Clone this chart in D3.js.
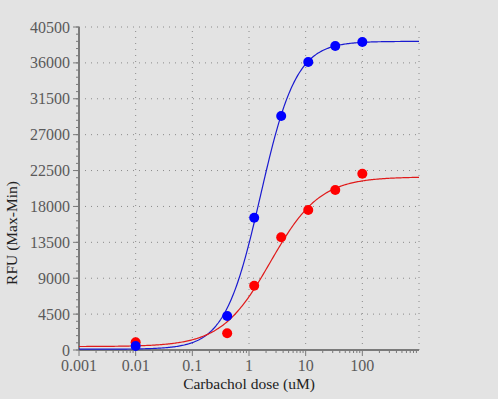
<!DOCTYPE html>
<html>
<head>
<meta charset="utf-8">
<script src="https://cdn.jsdelivr.net/npm/d3@7"></script>
<style>
  html, body { margin: 0; padding: 0; background: #e3e3e3; }
  svg { display: block; font-family: "Liberation Serif", "Times New Roman", serif; }
  .tick-label { fill: #5a5a5a; font-size: 16px; }
  .axis-label { fill: #222; font-size: 15.5px; }
</style>
</head>
<body>
<script>
"use strict";

// doses (uM), 3-fold dilution series plus the zero-dose point shown at 0.01
var doses = [0.01, 0.412, 1.235, 3.7, 11.1, 33.3, 100];
var blueValues = [500, 4260, 16590, 29340, 36110, 38120, 38620];
var redValues = [960, 2090, 8060, 14130, 17560, 20060, 22110];

// fitted 4PL parameters [bottom, top, ec50, hill]
var blueFit = [100, 38700, 1.6, 1.38];
var redFit = [430, 21700, 2.4, 1.0];

var xTicks = [0.001, 0.01, 0.1, 1, 10, 100];
var xTickLabels = ["0.001", "0.01", "0.1", "1", "10", "100"];
var yTicks = [0, 4500, 9000, 13500, 18000, 22500, 27000, 31500, 36000, 40500];

var width = 498;
var height = 399;
var margin = { top: 27, left: 79, right: 79, bottom: 49 };

var xScale = d3.scaleLog()
    .domain([0.001, 1000])
    .range([margin.left, width - margin.right]);
var yScale = d3.scaleLinear()
    .domain([0, 40500])
    .range([height - margin.bottom, margin.top]);

var svg = d3.select("body").append("svg")
    .attr("width", width)
    .attr("height", height);

// gridlines
var grid = svg.append("g").attr("class", "grid");
grid.selectAll(".hgrid")
    .data(yTicks.slice(1))
    .enter().append("line")
    .attr("x1", margin.left)
    .attr("x2", width - margin.right)
    .attr("y1", function(d) { return yScale(d); })
    .attr("y2", function(d) { return yScale(d); })
    .attr("stroke", "#8a8a8a")
    .attr("stroke-dasharray", "1,5");
grid.selectAll(".vgrid")
    .data(xTicks.slice(1).concat([1000]))
    .enter().append("line")
    .attr("x1", function(d) { return xScale(d); })
    .attr("x2", function(d) { return xScale(d); })
    .attr("y1", yScale(0))
    .attr("y2", yScale(40500))
    .attr("stroke", "#8a8a8a")
    .attr("stroke-dasharray", "1,5");

// x axis with log minor ticks
var minorX = [];
for (var e = -3; e < 3; e++) {
    for (var m = 2; m <= 9; m++) minorX.push(m * Math.pow(10, e));
}
var xAxis = svg.append("g")
    .attr("transform", "translate(0," + yScale(0) + ")");
xAxis.append("line")
    .attr("x1", margin.left).attr("x2", width - margin.right)
    .attr("stroke", "#7a7a7a").attr("stroke-width", 2);
xAxis.selectAll(".minor")
    .data(minorX)
    .enter().append("line")
    .attr("x1", function(d) { return xScale(d); })
    .attr("x2", function(d) { return xScale(d); })
    .attr("y1", 0).attr("y2", 3)
    .attr("stroke", "#7a7a7a");
xAxis.selectAll(".major")
    .data(xTicks)
    .enter().append("line")
    .attr("x1", function(d) { return xScale(d); })
    .attr("x2", function(d) { return xScale(d); })
    .attr("y1", 0).attr("y2", 6)
    .attr("stroke", "#7a7a7a");
xAxis.selectAll("text")
    .data(xTicks)
    .enter().append("text")
    .attr("class", "tick-label")
    .attr("x", function(d) { return xScale(d); })
    .attr("y", 21)
    .attr("text-anchor", "middle")
    .text(function(d, i) { return xTickLabels[i]; });

// y axis with minor ticks
var minorY = d3.range(0, 40501, 900);
var yAxis = svg.append("g")
    .attr("transform", "translate(" + margin.left + ",0)");
yAxis.append("line")
    .attr("y1", yScale(0)).attr("y2", yScale(40500))
    .attr("stroke", "#7a7a7a").attr("stroke-width", 2);
yAxis.selectAll(".minor")
    .data(minorY)
    .enter().append("line")
    .attr("y1", function(d) { return yScale(d); })
    .attr("y2", function(d) { return yScale(d); })
    .attr("x1", -3).attr("x2", 0)
    .attr("stroke", "#7a7a7a");
yAxis.selectAll(".major")
    .data(yTicks)
    .enter().append("line")
    .attr("y1", function(d) { return yScale(d); })
    .attr("y2", function(d) { return yScale(d); })
    .attr("x1", -6).attr("x2", 0)
    .attr("stroke", "#7a7a7a");
yAxis.selectAll("text")
    .data(yTicks)
    .enter().append("text")
    .attr("class", "tick-label")
    .attr("x", -9)
    .attr("y", function(d) { return yScale(d); })
    .attr("dy", "0.35em")
    .attr("text-anchor", "end")
    .text(function(d) { return d; });

// axis titles
svg.append("text")
    .attr("class", "axis-label")
    .attr("x", (margin.left + width - margin.right) / 2)
    .attr("y", 389)
    .attr("text-anchor", "middle")
    .text("Carbachol dose (uM)");
svg.append("text")
    .attr("class", "axis-label")
    .attr("transform", "translate(17,233) rotate(-90)")
    .attr("text-anchor", "middle")
    .text("RFU (Max-Min)");

// fitted curves
function fourPL(p) {
    return function(x) { return p[0] + (p[1] - p[0]) / (1 + Math.pow(p[2] / x, p[3])); };
}
var curveX = d3.range(0, 301).map(function(i) { return Math.pow(10, -3 + i * 6 / 300); });
var line = d3.line()
    .x(function(d) { return xScale(d[0]); })
    .y(function(d) { return yScale(d[1]); });

var series = [
    { color: "#0000ff", line: "#1a1ad0", fit: blueFit, values: blueValues },
    { color: "#ff0000", line: "#e01a1a", fit: redFit, values: redValues }
];

series.forEach(function(s) {
    var f = fourPL(s.fit);
    svg.append("path")
        .datum(curveX.map(function(x) { return [x, f(x)]; }))
        .attr("d", line)
        .attr("fill", "none")
        .attr("stroke", s.line)
        .attr("stroke-width", 1.2);
});

series.slice().reverse().forEach(function(s) {
    svg.append("g").selectAll("circle")
        .data(doses)
        .enter().append("circle")
        .attr("cx", function(d) { return xScale(d); })
        .attr("cy", function(d, i) { return yScale(s.values[i]); })
        .attr("r", 5)
        .attr("fill", s.color);
});
</script>
</body>
</html>
